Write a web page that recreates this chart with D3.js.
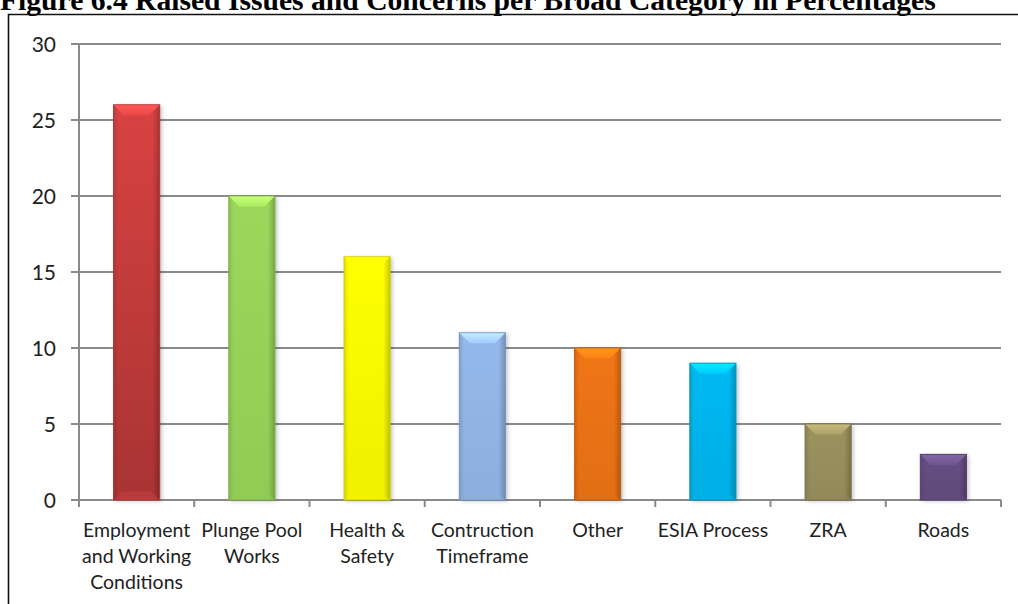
<!DOCTYPE html>
<html>
<head>
<meta charset="utf-8">
<script src="https://cdn.jsdelivr.net/npm/d3@7"></script>
<style>
  html, body { margin: 0; padding: 0; background: #fff; }
  svg { display: block; }
</style>
</head>
<body>
<svg id="chart" width="1018" height="604"></svg>
<script>
// Issues raised per broad category (percent)
const categories = [
  ["Employment", "and Working", "Conditions"],
  ["Plunge Pool", "Works"],
  ["Health &", "Safety"],
  ["Contruction", "Timeframe"],
  ["Other"],
  ["ESIA Process"],
  ["ZRA"],
  ["Roads"]
];
const values = [26, 20, 16, 11, 10, 9, 5, 3];
const barColors = ["#d84242", "#9bd85a", "#ffff00", "#95b9eb", "#f07514", "#00b9f2", "#9b925f", "#654f83"];
const yTicks = [0, 5, 10, 15, 20, 25, 30];
const titleText = "Figure 6.4 Raised Issues and Concerns per Broad Category in Percentages";

const svg = d3.select("#chart");
const defs = svg.append("defs");

const plot = { left: 79, right: 1001, top: 44, bottom: 500 };

const x = d3.scaleBand()
  .domain(d3.range(values.length))
  .range([plot.left, plot.right])
  .paddingInner(0.6)
  .paddingOuter(0.3);
const band = d3.scaleBand().domain(d3.range(values.length)).range([plot.left, plot.right]);
const y = d3.scaleLinear().domain([0, 30]).range([plot.bottom, plot.top]);

// Title (sits partly above the page edge)
svg.append("text")
  .attr("x", 0)
  .attr("y", 10)
  .attr("font-family", "'Liberation Serif', 'Times New Roman', serif")
  .attr("font-weight", "bold")
  .attr("font-size", 29.6)
  .attr("fill", "#000")
  .text(titleText);

// Frame around the chart
svg.append("path")
  .attr("d", "M8.5,604 L8.5,14.5 L1018,14.5")
  .attr("fill", "none")
  .attr("stroke", "#111")
  .attr("stroke-width", 1.6);

// Gridlines
svg.append("g")
  .selectAll("line")
  .data(yTicks)
  .join("line")
  .attr("x1", plot.left - 8)
  .attr("x2", plot.right)
  .attr("y1", d => y(d))
  .attr("y2", d => y(d))
  .attr("stroke", "#8a8a8a")
  .attr("stroke-width", 2);

// Y axis line
svg.append("line")
  .attr("x1", plot.left).attr("x2", plot.left)
  .attr("y1", plot.top).attr("y2", plot.bottom + 7)
  .attr("stroke", "#8a8a8a").attr("stroke-width", 2);

// Y tick labels
svg.append("g")
  .selectAll("text")
  .data(yTicks)
  .join("text")
  .attr("x", 56)
  .attr("y", d => y(d))
  .attr("dy", "0.36em")
  .attr("text-anchor", "end")
  .attr("font-family", "Lato, sans-serif")
  .attr("font-size", 21)
  .attr("fill", "#222")
  .text(d => d);

// X category tick marks at band boundaries
const xTickPos = d3.range(values.length + 1).map(i => plot.left + i * band.step());
svg.append("g")
  .selectAll("line")
  .data(xTickPos)
  .join("line")
  .attr("x1", d => d).attr("x2", d => d)
  .attr("y1", plot.bottom).attr("y2", plot.bottom + 7)
  .attr("stroke", "#8a8a8a").attr("stroke-width", 2);

// Gradients for the bevelled bars
function shade(c, k) { return d3.color(c).darker(k).formatHex(); }
function tint(c, k) { return d3.color(c).brighter(k).formatHex(); }

barColors.forEach((c, i) => {
  const g = defs.append("linearGradient").attr("id", "side" + i)
    .attr("x1", 0).attr("x2", 1).attr("y1", 0).attr("y2", 0);
  g.append("stop").attr("offset", 0).attr("stop-color", shade(c, 0.35));
  g.append("stop").attr("offset", 0.1).attr("stop-color", c);
  g.append("stop").attr("offset", 0.85).attr("stop-color", c);
  g.append("stop").attr("offset", 1).attr("stop-color", shade(c, 0.7));

  const v = defs.append("linearGradient").attr("id", "vert" + i)
    .attr("x1", 0).attr("x2", 0).attr("y1", 0).attr("y2", 1);
  v.append("stop").attr("offset", 0).attr("stop-color", "#000").attr("stop-opacity", 0);
  v.append("stop").attr("offset", 1).attr("stop-color", "#000").attr("stop-opacity", i === 0 ? 0.22 : 0.06);

  const t = defs.append("linearGradient").attr("id", "top" + i)
    .attr("x1", 0).attr("x2", 0).attr("y1", 0).attr("y2", 1);
  t.append("stop").attr("offset", 0).attr("stop-color", tint(c, 0.7));
  t.append("stop").attr("offset", 1).attr("stop-color", tint(c, 0.25));
});

const shadow = defs.append("filter").attr("id", "barShadow")
  .attr("x", "-20%").attr("y", "-5%").attr("width", "150%").attr("height", "115%");
shadow.append("feDropShadow").attr("dx", 2).attr("dy", 1).attr("stdDeviation", 2)
  .attr("flood-color", "#000").attr("flood-opacity", 0.25);

const bars = svg.append("g")
  .selectAll("g")
  .data(values)
  .join("g");

bars.append("rect")
  .attr("x", (d, i) => x(i))
  .attr("y", d => y(d))
  .attr("width", x.bandwidth())
  .attr("height", d => y(0) - y(d))
  .attr("fill", (d, i) => `url(#side${i})`)
  .attr("filter", "url(#barShadow)");

bars.append("rect")
  .attr("x", (d, i) => x(i))
  .attr("y", d => y(d))
  .attr("width", x.bandwidth())
  .attr("height", d => y(0) - y(d))
  .attr("fill", (d, i) => `url(#vert${i})`)
  .attr("stroke", (d, i) => shade(barColors[i], 0.6))
  .attr("stroke-width", 1);

// Top chamfer
bars.append("path")
  .attr("d", (d, i) => {
    const x0 = x(i) + 0.5, x1 = x(i) + x.bandwidth() - 0.5, y0 = y(d) + 0.5, h = 10;
    return `M${x0},${y0} L${x1},${y0} L${x1 - h},${y0 + h} L${x0 + h},${y0 + h} Z`;
  })
  .attr("fill", (d, i) => `url(#top${i})`);

// Bottom chamfer (subtle)
bars.append("path")
  .attr("d", (d, i) => {
    const x0 = x(i) + 0.5, x1 = x(i) + x.bandwidth() - 0.5, y0 = y(0) - 0.5, h = 8;
    return `M${x0},${y0} L${x1},${y0} L${x1 - h},${y0 - h} L${x0 + h},${y0 - h} Z`;
  })
  .attr("fill", (d, i) => shade(barColors[i], 0.15))
  .attr("opacity", 0.5);

// Category labels
const labels = svg.append("g")
  .selectAll("text")
  .data(categories)
  .join("text")
  .attr("x", (d, i) => band(i) + band.bandwidth() / 2)
  .attr("y", 537)
  .attr("text-anchor", "middle")
  .attr("font-family", "Lato, sans-serif")
  .attr("font-size", 19.5)
  .attr("fill", "#222");

labels.selectAll("tspan")
  .data(d => d)
  .join("tspan")
  .attr("x", function () { return d3.select(this.parentNode).attr("x"); })
  .attr("dy", (d, j) => j === 0 ? 0 : 26)
  .text(d => d);
</script>
</body>
</html>
